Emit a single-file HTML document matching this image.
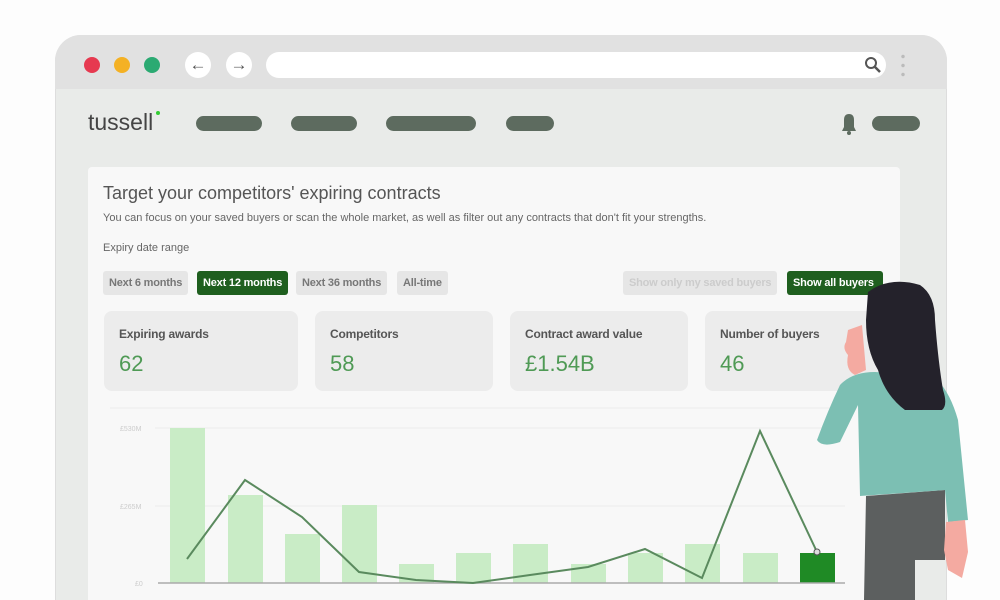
<!DOCTYPE html>
<html><head><meta charset="utf-8"><style>
html,body{margin:0;width:1000px;height:600px;overflow:hidden}
body{background:#fdfdfd;font-family:"Liberation Sans",sans-serif;position:relative}
.abs{position:absolute}
.pill{position:absolute;background:#5d6b5f;border-radius:8px;height:15px;top:116px}
.btn{position:absolute;top:271px;height:24px;line-height:24px;font-size:11px;background:#e6e6e6;color:#777;border-radius:3px;padding:0 6px;font-weight:bold;letter-spacing:-0.2px}
.stat{position:absolute;top:311px;width:194px;height:80px;background:#ececec;border-radius:8px}
.stat .t{position:absolute;left:15px;top:16px;font-size:12px;color:#555;font-weight:bold;letter-spacing:-0.2px}
.stat .v{position:absolute;left:15px;top:40px;font-size:22px;color:#4f9a55}
</style></head><body>
<div class="abs" style="left:55px;top:35px;width:892px;height:565px;background:#e9ebe9;border-radius:26px 26px 0 0;border:1px solid #ddd;border-bottom:none;box-sizing:border-box"></div>
<div class="abs" style="left:55px;top:35px;width:892px;height:54px;background:#e1e1e1;border-radius:26px 26px 0 0"></div>
<div class="abs" style="left:84px;top:57px;width:16px;height:16px;border-radius:50%;background:#e63950"></div>
<div class="abs" style="left:114px;top:57px;width:16px;height:16px;border-radius:50%;background:#f4b124"></div>
<div class="abs" style="left:144px;top:57px;width:16px;height:16px;border-radius:50%;background:#2baa72"></div>
<div class="abs" style="left:185px;top:52px;width:26px;height:26px;border-radius:50%;background:#fff;text-align:center;line-height:26px;color:#555;font-size:17px">←</div>
<div class="abs" style="left:226px;top:52px;width:26px;height:26px;border-radius:50%;background:#fff;text-align:center;line-height:26px;color:#555;font-size:17px">→</div>
<div class="abs" style="left:266px;top:52px;width:620px;height:26px;border-radius:13px;background:#fff"></div>
<div class="abs" style="left:901px;top:52px;width:4px;height:26px;background:radial-gradient(circle,#bbb 1.5px,transparent 2px) 0 0/4px 9px"></div>
<div class="abs" style="left:88px;top:109px;font-size:23px;color:#444">tussell</div>
<div class="abs" style="left:156px;top:111px;width:4px;height:4px;border-radius:50%;background:#3c3"></div>
<div class="pill" style="left:196px;width:66px"></div>
<div class="pill" style="left:291px;width:66px"></div>
<div class="pill" style="left:386px;width:90px"></div>
<div class="pill" style="left:506px;width:48px"></div>
<div class="pill" style="left:872px;width:48px"></div>
<div class="abs" style="left:88px;top:167px;width:812px;height:433px;background:#f8f8f8;border-radius:4px 4px 0 0"></div>
<div class="abs" style="left:103px;top:183px;font-size:18px;color:#555">Target your competitors' expiring contracts</div>
<div class="abs" style="left:103px;top:212px;font-size:11px;color:#666">You can focus on your saved buyers or scan the whole market, as well as filter out any contracts that don't fit your strengths.</div>
<div class="abs" style="left:103px;top:242px;font-size:11px;color:#666">Expiry date range</div>
<div class="btn" style="left:103px">Next 6 months</div>
<div class="btn" style="left:197px;background:#1f5f1f;color:#fff">Next 12 months</div>
<div class="btn" style="left:296px">Next 36 months</div>
<div class="btn" style="left:397px">All-time</div>
<div class="btn" style="left:623px;color:#ccc">Show only my saved buyers</div>
<div class="btn" style="left:787px;background:#1f5f1f;color:#fff;width:84px">Show all buyers</div>
<div class="stat" style="left:104px"><div class="t">Expiring awards</div><div class="v">62</div></div>
<div class="stat" style="left:315px;width:178px"><div class="t">Competitors</div><div class="v">58</div></div>
<div class="stat" style="left:510px;width:178px"><div class="t">Contract award value</div><div class="v">£1.54B</div></div>
<div class="stat" style="left:705px"><div class="t">Number of buyers</div><div class="v">46</div></div>
<svg class="abs" style="left:0;top:0" width="1000" height="600">
<circle cx="871" cy="63" r="5" fill="none" stroke="#555" stroke-width="2"/><line x1="875" y1="67" x2="880" y2="72" stroke="#555" stroke-width="2.5"/>
<path d="M842,131 L856,131 L854,127 L854,120 Q854,114 849,114 Q844,114 844,120 L844,127 Z" fill="#5d6b5f"/><circle cx="849" cy="133" r="2" fill="#5d6b5f"/>
<g stroke="#ececec" stroke-width="1"><line x1="155" y1="428" x2="845" y2="428"/><line x1="155" y1="506" x2="845" y2="506"/><line x1="110" y1="408" x2="845" y2="408"/></g>
<g font-size="7" fill="#ccc" font-family="Liberation Sans"><text x="120" y="431">£530M</text><text x="120" y="509">£265M</text><text x="135" y="586">£0</text></g>
<g fill="#c9ecc6">
<rect x="170" y="428" width="35" height="155"/><rect x="228" y="495" width="35" height="88"/><rect x="285" y="534" width="35" height="49"/><rect x="342" y="505" width="35" height="78"/><rect x="399" y="564" width="35" height="19"/><rect x="456" y="553" width="35" height="30"/><rect x="513" y="544" width="35" height="39"/><rect x="571" y="564" width="35" height="19"/><rect x="628" y="553" width="35" height="30"/><rect x="685" y="544" width="35" height="39"/><rect x="743" y="553" width="35" height="30"/></g>
<rect x="800" y="553" width="35" height="30" fill="#1f8a25"/>
<line x1="158" y1="583" x2="845" y2="583" stroke="#aaa" stroke-width="1.5"/>
<polyline fill="none" stroke="#5a8a5e" stroke-width="2" points="187,559 245,480 302,517 359,572 416,580 473,583 530,575 588,567 645,549 702,578 760,431 817,552"/>
<circle cx="817" cy="552" r="3" fill="#ddd" stroke="#555"/>
<path d="M866,496 L945,490 L945,560 L915,560 L915,600 L864,600Z" fill="#5c5f5f"/>
<path d="M875,372 Q852,372 840,385 Q828,410 817,440 Q822,448 840,442 L858,405 L860,496 L945,490 L948,522 L968,520 L958,420 Q948,385 930,375 Z" fill="#7cbfb3"/>
<path d="M946,522 L965,520 L968,552 L962,578 L948,570 L944,550Z" fill="#f4aaa1"/>
<path d="M848,330 L862,325 L866,370 L855,375 Q845,370 848,355 Q842,348 846,342 Z" fill="#f4aaa1"/>
<path d="M868,292 Q890,276 920,285 Q935,295 935,320 Q938,360 943,390 Q948,405 942,410 L905,410 Q885,395 878,370 Q866,350 866,320 Z" fill="#24222b"/>
</svg>
</body></html>
